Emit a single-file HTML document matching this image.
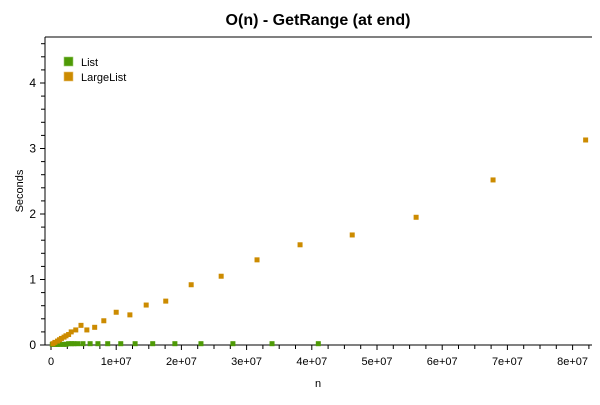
<!DOCTYPE html>
<html><head><meta charset="utf-8"><style>
body{margin:0;background:#fff;width:600px;height:400px;overflow:hidden;font-family:"Liberation Sans",sans-serif}
svg text{font-family:"Liberation Sans",sans-serif}
</style></head><body>
<svg id="chart" width="600" height="400" xmlns="http://www.w3.org/2000/svg">
<text x="318" y="25" text-anchor="middle" font-size="16" font-weight="bold" fill="#000">O(n) - GetRange (at end)</text>
<g id="axes"></g><g id="marks"></g>
<g>
<rect x="64" y="57" width="9" height="9" fill="#4e9a06" stroke="#9ccc70" stroke-width="0.6"/>
<text x="81" y="66" font-size="11">List</text>
<rect x="64" y="72" width="9" height="9" fill="#cc8b00" stroke="#e8c070" stroke-width="0.6"/>
<text x="81" y="81" font-size="11">LargeList</text>
</g>
<text x="318" y="387" text-anchor="middle" font-size="11">n</text>
<text transform="translate(23,191) rotate(-90)" text-anchor="middle" font-size="11">Seconds</text>
</svg>
<script>
const listN=[0.02,0.05,0.08,0.11,0.15,0.19,0.23,0.27,0.32,0.35,0.41,0.49,0.6,0.72,0.87,1.07,1.29,1.56,1.9,2.3,2.79,3.39,4.1];
const listSec=[0.01,0.01,0.01,0.01,0.01,0.01,0.01,0.02,0.02,0.02,0.02,0.02,0.02,0.02,0.02,0.02,0.02,0.02,0.02,0.02,0.02,0.02,0.02];
const largeN=[0.03,0.06,0.1,0.13,0.16,0.2,0.23,0.27,0.31,0.38,0.46,0.55,0.67,0.81,1.0,1.21,1.46,1.76,2.15,2.61,3.16,3.82,4.62,5.6,6.78,8.2];
const largeSec=[0.02,0.04,0.06,0.08,0.1,0.12,0.14,0.16,0.2,0.23,0.3,0.23,0.27,0.37,0.5,0.46,0.61,0.67,0.92,1.05,1.3,1.53,1.68,1.95,2.52,3.13];
const xTicks=[0,1,2,3,4,5,6,7,8];
const xTickLabels=["0","1e+07","2e+07","3e+07","4e+07","5e+07","6e+07","7e+07","8e+07"];
const yTicks=[0,1,2,3,4];
const yTickLabels=["0","1","2","3","4"];
const L=45,R=592,T=37,B=345,X0=51,XS=65.2,YS=65.5;
const sx=v=>X0+v*XS, sy=v=>B-v*YS;
const NS="http://www.w3.org/2000/svg";
function mk(tag,attrs,parent){const e=document.createElementNS(NS,tag);for(const k in attrs)e.setAttribute(k,attrs[k]);parent.appendChild(e);return e;}
const ax=document.getElementById('axes'),mg=document.getElementById('marks');
let e;
e=mk('line',{x1:L,y1:B,x2:R,y2:B,stroke:'#000'},ax);


e=mk('line',{x1:L,y1:T,x2:L,y2:B,stroke:'#000'},ax);


e=mk('line',{x1:L,y1:T,x2:R,y2:T,stroke:'#000'},ax);


for(let v=0;v<=8.3;v+=0.25){const x=sx(v);const maj=Math.abs(v-Math.round(v))<1e-6;
e=mk('line',{x1:x,y1:B,x2:x,y2:B+(maj?5:4),stroke:'#000'},ax);

}
xTicks.forEach((v,i)=>{e=mk('text',{x:sx(v),y:B+20,'text-anchor':'middle','font-size':11},ax);e.textContent=xTickLabels[i];

});
for(let v=0;v<=4.7;v+=0.2){const y=sy(v);const maj=Math.abs(v-Math.round(v))<1e-6;
e=mk('line',{x1:L-(maj?5:4),y1:y,x2:L,y2:y,stroke:'#000'},ax);

}
yTicks.forEach((v,i)=>{e=mk('text',{x:L-9,y:sy(v)+4,'text-anchor':'end','font-size':12},ax);e.textContent=yTickLabels[i];

});
listN.forEach((n,i)=>{e=mk('rect',{x:sx(n)-2.5,y:sy(listSec[i])-2.5,width:5,height:5,fill:'#4e9a06'},mg);

});
largeN.forEach((n,i)=>{e=mk('rect',{x:sx(n)-2.5,y:sy(largeSec[i])-2.5,width:5,height:5,fill:'#cc8b00'},mg);

});
</script>
</body></html>
